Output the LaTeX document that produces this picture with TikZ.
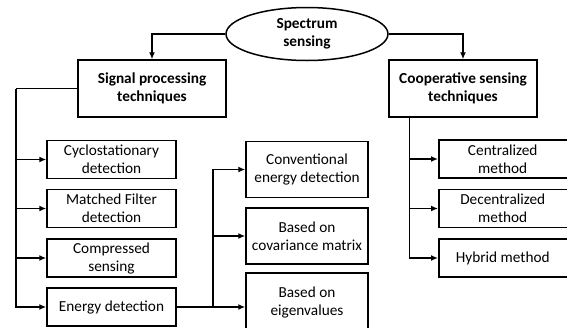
\documentclass[tikz,border=0pt]{standalone}
\usepackage{fontspec}
\setmainfont{Carlito}
\usetikzlibrary{shapes.geometric,arrows.meta}

\tikzset{
  box/.style = {draw, line width=1.5pt, align=center, inner sep=1pt,
                font=\fontsize{15.3}{18}\selectfont},
  head/.style = {box, font=\fontsize{15.3}{18.5}\selectfont\bfseries},
  leaf/.style = {box, minimum width=129pt, minimum height=38pt},
  sub/.style = {box, minimum width=122pt, minimum height=56pt},
  coopleaf/.style = {box, minimum width=140pt, minimum height=38pt, anchor=west},
  arr/.style = {-{Latex[length=7pt,width=6pt]}, line width=1.5pt},
  bus/.style = {line width=1.5pt}
}

\begin{document}
\begin{tikzpicture}[x=1pt, y=-1pt]
      \useasboundingbox (0,0) rectangle (567,327);

      \node [head, ellipse, minimum width=162pt, minimum height=53pt, inner sep=0pt] (spec) at (307,34) {Spectrum\\sensing};

      \node [head, minimum width=148pt, minimum height=57pt] (sig) at (152,88.5) {Signal processing\\techniques};
      \node [head, minimum width=148pt, minimum height=57pt] (coop) at (463,88.5) {Cooperative sensing\\techniques};

      \draw [arr] (spec.west) -| (sig.north);
      \draw [arr] (spec.east) -| (coop.north);

      % signal processing branch
      \node [leaf] (cyc) at (111.5,159.5) {Cyclostationary\\detection};
      \node [leaf] (mat) at (111.5,208.5) {Matched Filter\\detection};
      \node [leaf] (com) at (111.5,258) {Compressed\\sensing};
      \node [leaf] (ene) at (111.5,307) {Energy detection};

      \coordinate (lbus) at (16,88.5);
      \draw [bus] (sig.west) -- (lbus);
      \foreach \n in {cyc,mat,com,ene}
        \draw [arr] (lbus) |- (\n.west);

      % energy detection branch
      \node [sub] (conv) at (307,169.5) {Conventional\\energy detection};
      \node [sub] (cov) at (307,236) {Based on\\covariance matrix};
      \node [sub, minimum height=58pt] (eig) at (307,302) {Based on\\eigenvalues};

      \coordinate (mbus) at (213,307);
      \draw [bus] (ene.east) -- (mbus);
      \foreach \n in {conv,cov}
        \draw [arr] (mbus) |- (\n.west);
      \draw [arr] (mbus) -- (mbus -| eig.west);

      % cooperative branch
      \node [coopleaf] (cen) at (438,159) {\hspace*{-12pt}Centralized\\\hspace*{-12pt}method};
      \node [coopleaf] (dec) at (438,208.5) {\hspace*{-12pt}Decentralized\\\hspace*{-12pt}method};
      \node [coopleaf] (hyb) at (438,258) {\hspace*{-12pt}Hybrid method};

      \coordinate (rbus) at (409.5,117);
      \foreach \n in {cen,dec,hyb}
        \draw [arr] (rbus) |- (\n.west);
\end{tikzpicture}
\end{document}
